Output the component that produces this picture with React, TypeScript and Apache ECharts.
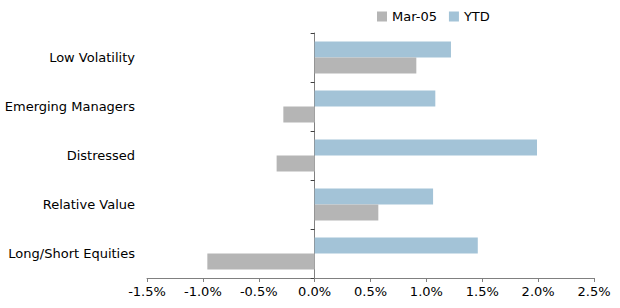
import React, { useEffect, useRef } from "react";
import * as echarts from "echarts";

const categories = ["Long/Short Equities", "Relative Value", "Distressed", "Emerging Managers", "Low Volatility"];
const mar05 = [-0.96, 0.57, -0.34, -0.28, 0.91];
const ytd = [1.46, 1.06, 1.99, 1.08, 1.22];
const xTicks = { min: -1.5, max: 2.5, interval: 0.5 };

export default function App() {
  const ref = useRef<HTMLDivElement>(null);
  useEffect(() => {
    if (!ref.current) return;
    const chart = echarts.init(ref.current, null, { renderer: "svg" });
    const font = "DejaVu Sans, Arial, sans-serif";
    chart.setOption({
      animation: false,
      textStyle: { fontFamily: font },
      legend: {
        left: 372,
        top: 5,
        itemWidth: 10,
        itemHeight: 10,
        itemGap: 12,
        icon: "rect",
        textStyle: { fontFamily: font, fontSize: 13, color: "#000" },
        data: ["Mar-05", "YTD"],
      },
      grid: { left: 147, right: 26, top: 33, bottom: 30, containLabel: false },
      xAxis: {
        type: "value",
        min: xTicks.min,
        max: xTicks.max,
        interval: xTicks.interval,
        axisLine: { show: true, lineStyle: { color: "#808080", width: 1 } },
        axisTick: { show: true, length: 4, lineStyle: { color: "#808080" } },
        splitLine: { show: false },
        axisLabel: {
          fontFamily: font,
          fontSize: 13,
          color: "#000",
          margin: 7,
          formatter: (v: number) => v.toFixed(1) + "%",
        },
      },
      yAxis: [
        {
          type: "category",
          data: categories,
          axisLine: { show: false, onZero: false },
          axisTick: { show: false },
          axisLabel: { fontFamily: font, fontSize: 13, color: "#000", margin: 12 },
        },
        {
          type: "category",
          data: categories,
          position: "left",
          axisLine: { show: true, onZero: true, lineStyle: { color: "#808080", width: 1 } },
          axisTick: { show: true, length: 4, lineStyle: { color: "#404040" } },
          axisLabel: { show: false },
        },
      ],
      series: [
        {
          name: "YTD",
          type: "bar",
          data: ytd,
          barWidth: 16,
          barGap: "0%",
          itemStyle: { color: "#A3C3D7" },
        },
        {
          name: "Mar-05",
          type: "bar",
          data: mar05,
          barWidth: 16,
          barGap: "0%",
          itemStyle: { color: "#B5B5B5" },
        },
      ],
    });
    return () => chart.dispose();
  }, []);
  return <div ref={ref} style={{ width: 620, height: 308, position: "absolute", left: 0, top: 0 }} />;
}
